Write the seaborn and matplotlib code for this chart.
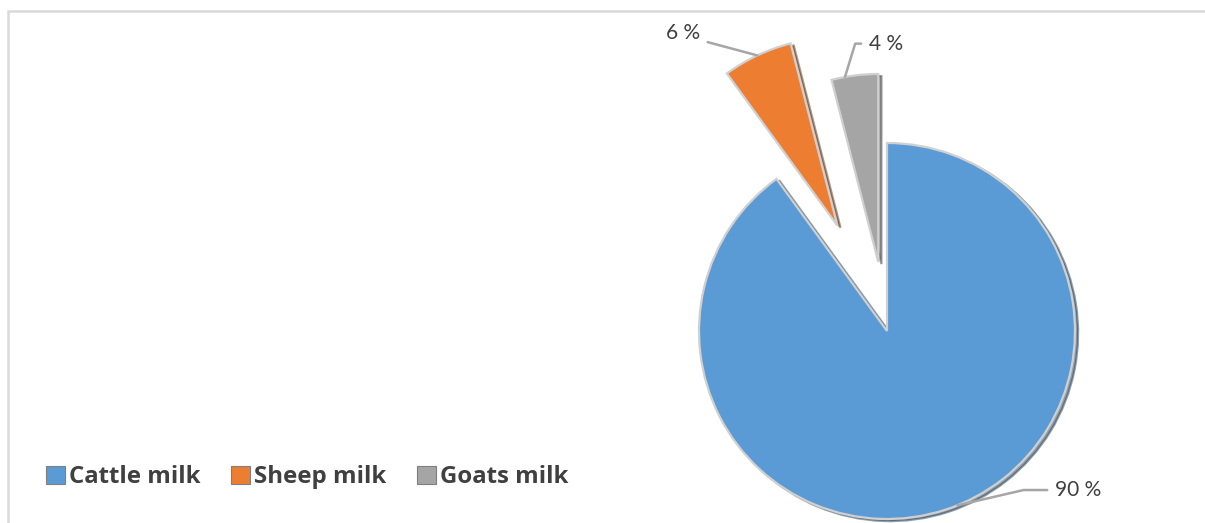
import matplotlib.pyplot as plt
import seaborn as sns
import numpy as np
from matplotlib.patches import Patch, Rectangle

# Milk production shares
categories = ['Cattle milk', 'Sheep milk', 'Goats milk']
shares = [90, 6, 4]
pct_labels = ['90 %', '6 %', '4 %']
explode = [0, 0.62, 0.37]

sns.set_theme(style='white')
plt.rcParams['font.family'] = ['Lato', 'DejaVu Sans']
colors = ['#5B9BD5', '#ED7D31', '#A5A5A5']

W, H = 1205, 523
fig = plt.figure(figsize=(W / 100, H / 100), dpi=100)
ax = fig.add_axes([0, 0, 1, 1])

# pie centre and radius in pixels
cx, cy, r = 887, 331, 188

wedges, _ = ax.pie(shares, colors=colors, explode=explode, startangle=90,
                   counterclock=False, radius=1,
                   wedgeprops=dict(edgecolor='#d0d0d0', linewidth=1.6),
                   shadow=dict(ox=0.012, oy=-0.008, shade=0.6, alpha=0.5))

ax.set_xlim(-cx / r, (W - cx) / r)
ax.set_ylim(-(H - cy) / r, cy / r)
ax.set_aspect('auto')
ax.axis('off')

# leader anchors: angle shift from the wedge middle (deg), text offset (pt), leader angle at the slice
label_style = [
    dict(shift=4, offset=(70, 11), angleB=13),
    dict(shift=0, offset=(-41, 16), angleB=165),
    dict(shift=3, offset=(17, 24), angleB=73),
]
for w, lab, st in zip(wedges, pct_labels, label_style):
    th = np.deg2rad((w.theta1 + w.theta2) / 2 + st['shift'])
    x = w.center[0] + w.r * np.cos(th)
    y = w.center[1] + w.r * np.sin(th)
    ha = 'left' if st['offset'][0] > 0 else 'right'
    ax.annotate(lab, xy=(x, y), xytext=st['offset'], textcoords='offset points',
                ha=ha, va='center', fontsize=15, color='#404040',
                arrowprops=dict(arrowstyle='-', color='#a6a6a6', lw=1.8,
                                shrinkA=3, shrinkB=0,
                                connectionstyle='angle,angleA=0,angleB=%d,rad=0'
                                % st['angleB']))

handles = [Patch(facecolor=c, edgecolor='#7f7f7f', linewidth=0.8) for c in colors]
leg = fig.legend(handles, categories, loc='center left', bbox_to_anchor=(0.02, 0.087),
                 ncol=3, frameon=False, handlelength=0.8, handleheight=0.8,
                 handletextpad=0.18, columnspacing=1.25,
                 prop=dict(family=['Open Sans', 'DejaVu Sans'], weight='bold', size=17.3))
for t in leg.get_texts():
    t.set_color('#404040')

# chart area border
fig.patches.append(Rectangle((8 / W, -0.05), 1.05, 1.05 - 11 / H, transform=fig.transFigure,
                             fill=False, edgecolor='#d9d9d9', linewidth=1.8))

fig.savefig('out.png', dpi=100)
